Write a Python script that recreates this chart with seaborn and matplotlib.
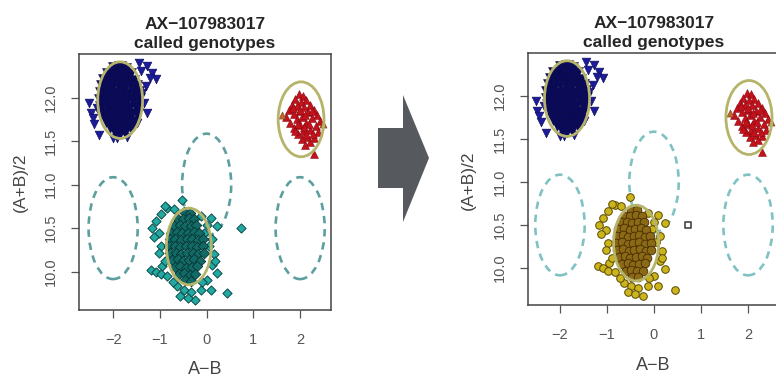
import matplotlib.pyplot as plt
import seaborn as sns
from matplotlib.patches import Ellipse, Polygon

# ---- data ----
# BB cluster (blue, down triangles): dense core + scattered outer points
bb_core_x = [-1.98, -1.86, -1.74,
             -2.12, -2.01, -1.89, -1.77, -1.64,
             -2.19, -2.07, -1.95, -1.83, -1.70, -1.58,
             -2.24, -2.13, -2.01, -1.88, -1.76, -1.63, -1.52,
             -2.27, -2.16, -2.04, -1.92, -1.80, -1.68, -1.55, -1.46,
             -2.28, -2.18, -2.06, -1.94, -1.82, -1.70, -1.58, -1.45,
             -2.26, -2.14, -2.02, -1.90, -1.78, -1.65, -1.52, -1.46,
             -2.22, -2.10, -1.98, -1.86, -1.74, -1.61, -1.50,
             -2.15, -2.04, -1.92, -1.80, -1.68, -1.57,
             -2.06, -1.95, -1.84, -1.72, -1.62,
             -1.96, -1.85, -1.74]
bb_core_y = [12.34, 12.35, 12.33,
             12.27, 12.28, 12.26, 12.28, 12.27,
             12.20, 12.21, 12.19, 12.20, 12.21, 12.19,
             12.13, 12.12, 12.14, 12.13, 12.12, 12.14, 12.13,
             12.05, 12.06, 12.04, 12.05, 12.06, 12.04, 12.05, 12.06,
             11.97, 11.98, 11.96, 11.97, 11.98, 11.96, 11.97, 11.98,
             11.89, 11.90, 11.88, 11.89, 11.90, 11.88, 11.89, 11.90,
             11.81, 11.82, 11.80, 11.81, 11.82, 11.80, 11.81,
             11.73, 11.74, 11.72, 11.73, 11.74, 11.72,
             11.66, 11.65, 11.67, 11.66, 11.65,
             11.60, 11.59, 11.60]
bb_out_x = [-1.45, -1.27, -1.16, -1.09, -1.30, -1.34, -1.27, -1.48, -2.52, -2.48,
            -2.44, -2.30, -2.01, -1.91, -1.40, -1.22, -2.40, -1.70, -2.35, -1.38]
bb_out_y = [12.40, 12.36, 12.28, 12.21, 12.13, 11.94, 11.82, 11.71, 11.94, 11.82,
            11.77, 11.57, 11.54, 11.53, 12.30, 12.22, 11.70, 11.55, 11.88, 12.05]

# AA cluster (red, up triangles)
aa_x = [1.97, 2.06, 1.90, 2.13, 2.01, 1.82, 2.22, 1.94, 2.09, 1.76,
        2.30, 1.99, 2.16, 1.87, 2.37, 1.70, 2.05, 2.26, 1.93, 2.43,
        1.79, 2.13, 2.00, 2.33, 1.87, 2.21, 2.06, 2.39, 1.95, 2.15,
        2.29, 2.04, 2.21, 2.10, 2.29, 1.85, 2.00, 2.25, 2.10, 1.95,
        2.20, 2.08, 1.90, 2.28, 2.12]
aa_y = [12.04, 12.02, 11.98, 11.97, 11.95, 11.92, 11.92, 11.90, 11.89, 11.86,
        11.86, 11.84, 11.83, 11.81, 11.80, 11.78, 11.78, 11.76, 11.75, 11.73,
        11.71, 11.71, 11.68, 11.67, 11.65, 11.63, 11.61, 11.60, 11.58, 11.55,
        11.53, 11.52, 11.49, 11.46, 11.35, 11.88, 11.86, 11.84, 11.80, 11.70,
        11.70, 11.66, 11.62, 11.58, 11.58]
aa_edge_x = [1.62, 2.49]
aa_edge_y = [11.80, 11.70]

# AB cluster (heterozygous): core + outer points
ab_core_x = [-0.48, -0.36,
             -0.62, -0.50, -0.38, -0.26,
             -0.70, -0.58, -0.46, -0.34, -0.22,
             -0.76, -0.64, -0.52, -0.40, -0.28, -0.16,
             -0.79, -0.67, -0.55, -0.43, -0.31, -0.19, -0.08,
             -0.80, -0.68, -0.56, -0.44, -0.32, -0.20, -0.07,
             -0.78, -0.66, -0.54, -0.42, -0.30, -0.18, -0.06,
             -0.74, -0.62, -0.50, -0.38, -0.26, -0.14,
             -0.68, -0.56, -0.44, -0.32, -0.20,
             -0.60, -0.48, -0.36, -0.24,
             -0.46, -0.34]
ab_core_y = [10.68, 10.67,
             10.61, 10.60, 10.62, 10.61,
             10.53, 10.54, 10.52, 10.53, 10.54,
             10.45, 10.46, 10.44, 10.45, 10.46, 10.44,
             10.37, 10.38, 10.36, 10.37, 10.38, 10.36, 10.37,
             10.29, 10.30, 10.28, 10.29, 10.30, 10.28, 10.29,
             10.21, 10.22, 10.20, 10.21, 10.22, 10.20, 10.21,
             10.13, 10.14, 10.12, 10.13, 10.14, 10.12,
             10.05, 10.06, 10.04, 10.05, 10.06,
             9.97, 9.98, 9.96, 9.97,
             9.90, 9.89]
ab_out_x = [-0.52, -0.84, -0.98, -1.09, -1.16, -1.02, -1.12, -0.13, 0.09, 0.23,
            0.01, 0.12, 0.16, 0.12, 0.23, 0.01, 0.09, 0.44, -1.20, -1.09,
            -0.95, -0.98, -0.84, -0.63, -0.49, -0.56, -0.34, -0.24, -0.13, -0.98,
            -1.02, -0.90, -0.70, -0.05, 0.05, -0.10, -0.72, -0.40, -0.90, 0.18]
ab_out_y = [10.82, 10.73, 10.66, 10.58, 10.50, 10.44, 10.40, 10.64, 10.62, 10.52,
            10.54, 10.37, 10.20, 10.08, 9.99, 9.91, 9.79, 9.75, 10.02, 10.00,
            10.06, 9.97, 9.95, 9.83, 9.79, 9.72, 9.77, 9.68, 9.79, 10.29,
            10.21, 10.75, 10.72, 10.45, 10.30, 9.88, 9.88, 9.70, 10.12, 10.12]

# the single sample that becomes a no-call
nc_x = [0.73]
nc_y = [10.50]

# fitted cluster ellipses (BB, AA, AB) and prior ellipses
fit_cx = [-1.85, 2.02, -0.38]
fit_cy = [11.97, 11.75, 10.29]
fit_w = [0.96, 0.98, 0.96]
fit_h = [0.88, 0.86, 0.88]
prior_cx = [-2.0, 0.0, 2.0]
prior_cy = [10.50, 11.00, 10.50]
prior_w = [1.05, 1.05, 1.05]
prior_h = [1.17, 1.17, 1.17]

title = "AX\u2212107983017\ncalled genotypes"
x_ticks = [-2, -1, 0, 1, 2]
y_ticks = [10.0, 10.5, 11.0, 11.5, 12.0]

sns.set_style("white")
plt.rcParams['font.family'] = ['Liberation Sans', 'DejaVu Sans']

W, H = 776, 379
fig = plt.figure(figsize=(W / 100, H / 100), dpi=100)


def px_axes(left, top, right, bottom):
    return fig.add_axes([left / W, 1 - bottom / H, (right - left) / W, (bottom - top) / H])


def draw_panel(ax, ab_fill, ab_core_fill, ab_edge, ab_core_edge, ab_marker, ab_size,
               prior_color, after):
    for cx, cy, w, h in zip(prior_cx, prior_cy, prior_w, prior_h):
        ax.add_patch(Ellipse((cx, cy), w, h, fill=False, edgecolor=prior_color,
                             lw=1.9, linestyle=(0, (2.8, 2.2)), zorder=1))
    sns.scatterplot(x=bb_out_x, y=bb_out_y, marker='v', s=40, color='#1c1c9a',
                    edgecolor='#0a0a50', linewidth=0.4, ax=ax, zorder=2)
    sns.scatterplot(x=bb_core_x, y=bb_core_y, marker='v', s=75, color='#0a0a58',
                    edgecolor='#0a0a4a', linewidth=0.3, ax=ax, zorder=2)
    sns.scatterplot(x=aa_x, y=aa_y, marker='^', s=32, color='#c4121c',
                    edgecolor='#8a0810', linewidth=0.4, ax=ax, zorder=2)
    sns.scatterplot(x=aa_edge_x, y=aa_edge_y, marker='^', s=26, color='#c2662c',
                    edgecolor='#6a3a10', linewidth=0.4, ax=ax, zorder=2)
    sns.scatterplot(x=ab_out_x, y=ab_out_y, marker=ab_marker, s=ab_size, color=ab_fill,
                    edgecolor=ab_edge, linewidth=0.7, ax=ax, zorder=2)
    sns.scatterplot(x=ab_core_x, y=ab_core_y, marker=ab_marker, s=ab_size * 1.3,
                    color=ab_core_fill, edgecolor=ab_core_edge, linewidth=0.6,
                    ax=ax, zorder=2)
    if after:
        sns.scatterplot(x=nc_x, y=nc_y, marker='s', s=22, color='white',
                        edgecolor='#444444', linewidth=1.2, ax=ax, zorder=3)
    else:
        sns.scatterplot(x=nc_x, y=nc_y, marker=ab_marker, s=ab_size, color=ab_fill,
                        edgecolor=ab_edge, linewidth=0.7, ax=ax, zorder=3)
    for cx, cy, w, h in zip(fit_cx, fit_cy, fit_w, fit_h):
        ax.add_patch(Ellipse((cx, cy), w, h, fill=False, edgecolor='#b6b46a',
                             lw=2.0, zorder=4))

    ax.set_xticks(x_ticks)
    ax.set_yticks(y_ticks)
    ax.tick_params(axis='both', direction='out', length=5.5, width=0.9, color='#555555',
                   labelcolor='#555555', labelsize=10.5, bottom=True, left=True)
    ax.tick_params(axis='x', pad=11)
    ax.tick_params(axis='y', pad=10, labelrotation=90)
    for lab in ax.get_yticklabels():
        lab.set_va('center')
    for sp in ax.spines.values():
        sp.set_visible(True)
        sp.set_color('#444444')
        sp.set_linewidth(1.1)
    ax.set_title(title, fontsize=12.5, fontweight='bold', linespacing=1.4, pad=4)
    ax.set_xlabel("A\u2212B", fontsize=13, color='#444444')
    ax.set_ylabel("(A+B)/2", fontsize=12.5, color='#444444')
    ax.xaxis.label.set_va('center')
    ax.yaxis.label.set_va('center')


# left panel: before
ax1 = px_axes(79, 54, 331, 310)
draw_panel(ax1, '#22a9a2', '#116a66', '#0a4a48', '#063634', 'D', 22, '#5c9f9e', False)
ax1.set_xlim(-2.73, 2.66)
ax1.set_ylim(9.56, 12.50)
ax1.xaxis.set_label_coords(0.5, -0.234)
ax1.yaxis.set_label_coords(-0.234, 0.5)

# right panel: after (extends past right edge, as in the reference)
ax2 = px_axes(528, 53, 780, 305)
draw_panel(ax2, '#cbb41c', '#8a6a16', '#5a4800', '#4a2c00', 'o', 30, '#80c2c2', True)
ax2.set_xlim(-2.68, 2.68)
ax2.set_ylim(9.57, 12.50)
ax2.xaxis.set_label_coords(0.496, -0.242)
ax2.yaxis.set_label_coords(-0.238, 0.496)

# arrow between panels
arrow_px = [(378, 128), (403, 128), (403, 95), (429, 158), (403, 222), (403, 188), (378, 188)]
fig.patches.append(Polygon([(x / W, 1 - y / H) for x, y in arrow_px], closed=True,
                           transform=fig.transFigure, facecolor='#56595e',
                           edgecolor='none'))

fig.savefig('out.png', dpi=100)
